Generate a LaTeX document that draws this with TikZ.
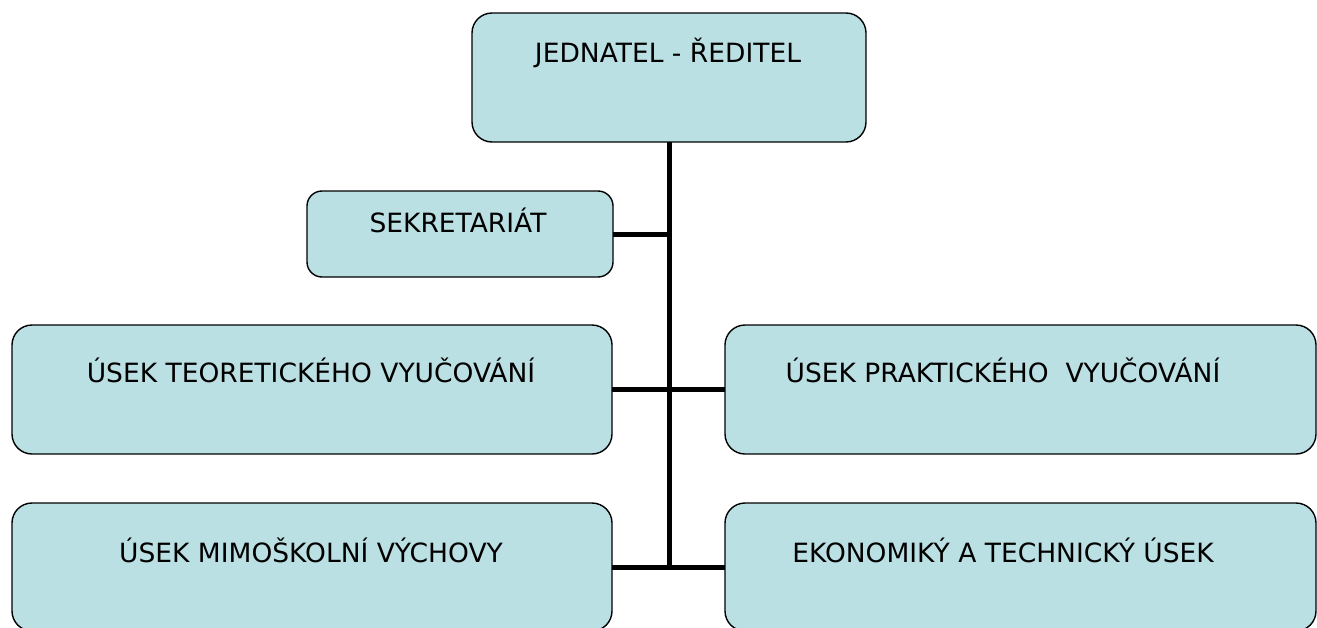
\documentclass[tikz,border=0pt]{standalone}
\usepackage{fontspec}
\setmainfont{DejaVu Sans}
\definecolor{boxfill}{RGB}{186,224,227}
\begin{document}
\begin{tikzpicture}[x=1pt,y=-1pt,
  box/.style={draw=black, line width=1.4pt, fill=boxfill, rounded corners=20pt,
    inner sep=0pt, outer sep=0pt},
  lbl/.style={anchor=base, inner sep=0pt, font=\fontsize{26.5}{30}\selectfont},
  conn/.style={draw=black, line width=5pt}]
\useasboundingbox (0,0) rectangle (1317,627);
\clip (0,0) rectangle (1317,627);
% boxes
\node[box, minimum width=394pt, minimum height=129pt] (top) at (669,77.5) {};
\node[box, rounded corners=15pt, minimum width=306pt, minimum height=86pt] (sek) at (460,234) {};
\node[box, minimum width=600pt, minimum height=129pt] (teo) at (312,389.5) {};
\node[box, minimum width=591pt, minimum height=129pt] (pra) at (1020.5,389.5) {};
\node[box, minimum width=600pt, minimum height=128pt] (mim) at (312,567) {};
\node[box, minimum width=591pt, minimum height=128pt] (eko) at (1020.5,567) {};
% connectors
\coordinate (bot) at (669,569);
\draw[conn] (top.south) -- (bot);
\draw[conn] (sek.east) -- (sek.east -| top.south);
\draw[conn] (teo.east) -- (pra.west);
\draw[conn] (mim.east) -- (eko.west);
% labels
\node[lbl] (ttop) at (668,62) {JEDNATEL - ŘEDITEL};
\node[lbl] (tsek) at (458,232) {SEKRETARIÁT};
\node[lbl] (tteo) at (311,382) {ÚSEK TEORETICKÉHO VYUČOVÁNÍ};
\node[lbl] (tpra) at (1003,382) {ÚSEK PRAKTICKÉHO\ \ VYUČOVÁNÍ};
\node[lbl] (tmim) at (311,562) {ÚSEK MIMOŠKOLNÍ VÝCHOVY};
\node[lbl] (teko) at (1003,562) {EKONOMIKÝ A TECHNICKÝ ÚSEK};
\end{tikzpicture}
\end{document}
